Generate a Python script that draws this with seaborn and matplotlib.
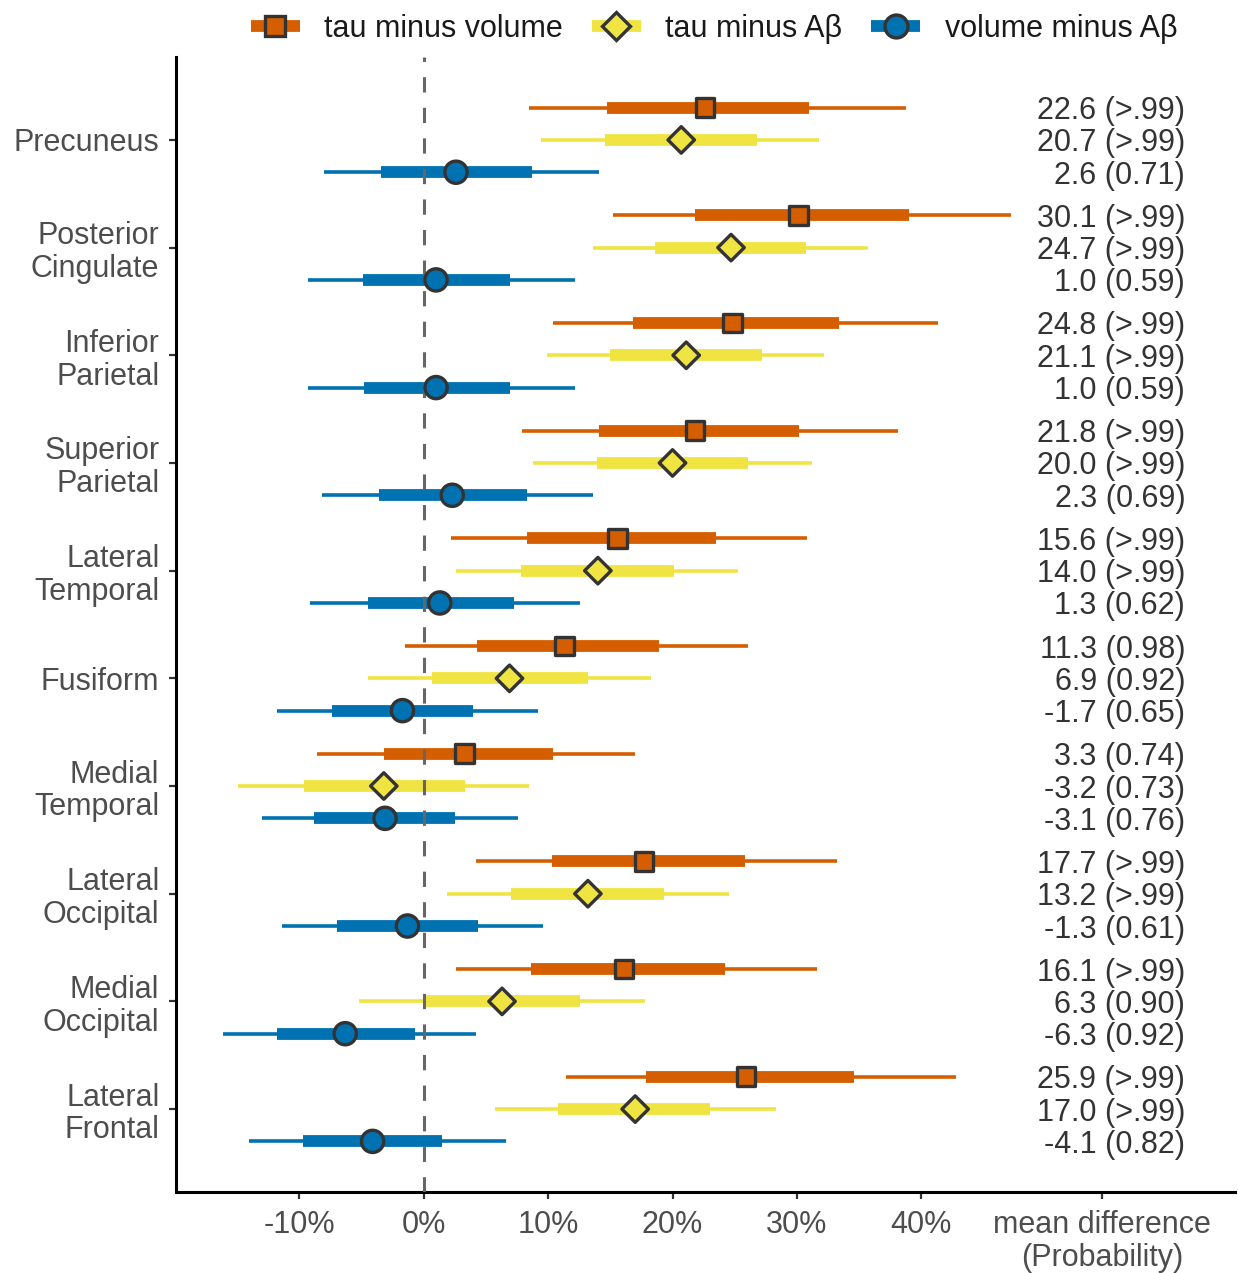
import matplotlib
matplotlib.use("Agg")
import matplotlib.pyplot as plt
from matplotlib.lines import Line2D
import numpy as np
import pandas as pd
import seaborn as sns

# ---- data -------------------------------------------------------------
regions = ["Precuneus", "Posterior\nCingulate", "Inferior\nParietal",
           "Superior\nParietal", "Lateral\nTemporal", "Fusiform",
           "Medial\nTemporal", "Lateral\nOccipital", "Medial\nOccipital",
           "Lateral\nFrontal"]
comparisons = ["tau minus volume", "tau minus Aβ", "volume minus Aβ"]

# posterior mean differences (%)
tau_vol_mean = [22.6, 30.1, 24.8, 21.8, 15.6, 11.3, 3.3, 17.7, 16.1, 25.9]
tau_ab_mean = [20.7, 24.7, 21.1, 20.0, 14.0, 6.9, -3.2, 13.2, 6.3, 17.0]
vol_ab_mean = [2.6, 1.0, 1.0, 2.3, 1.3, -1.7, -3.1, -1.3, -6.3, -4.1]

# probability of the difference having the sign of the mean
tau_vol_prob = [">.99", ">.99", ">.99", ">.99", ">.99", "0.98", "0.74", ">.99", ">.99", ">.99"]
tau_ab_prob = [">.99", ">.99", ">.99", ">.99", ">.99", "0.92", "0.73", ">.99", "0.90", ">.99"]
vol_ab_prob = ["0.71", "0.59", "0.59", "0.69", "0.62", "0.65", "0.76", "0.61", "0.92", "0.82"]

# outer (thin) credible intervals
tau_vol_lo95 = [8.5, 15.2, 10.4, 7.9, 2.2, -1.5, -8.6, 4.2, 2.6, 11.4]
tau_vol_hi95 = [38.8, 47.2, 41.3, 38.1, 30.8, 26.1, 17.0, 33.2, 31.6, 42.8]
tau_ab_lo95 = [9.4, 13.6, 9.9, 8.8, 2.6, -4.5, -14.9, 1.9, -5.2, 5.7]
tau_ab_hi95 = [31.8, 35.7, 32.2, 31.2, 25.3, 18.3, 8.5, 24.5, 17.8, 28.3]
vol_ab_lo95 = [-8.0, -9.3, -9.3, -8.2, -9.1, -11.8, -13.0, -11.4, -16.1, -14.0]
vol_ab_hi95 = [14.1, 12.2, 12.2, 13.6, 12.6, 9.2, 7.6, 9.6, 4.2, 6.6]

# inner (thick) credible intervals
tau_vol_lo_in = [14.7, 21.8, 16.8, 14.1, 8.3, 4.3, -3.2, 10.3, 8.6, 17.9]
tau_vol_hi_in = [31.0, 39.0, 33.4, 30.2, 23.5, 18.9, 10.4, 25.8, 24.2, 34.6]
tau_ab_lo_in = [14.6, 18.6, 15.0, 13.9, 7.8, 0.7, -9.6, 7.0, 0.0, 10.8]
tau_ab_hi_in = [26.8, 30.7, 27.2, 26.1, 20.1, 13.2, 3.3, 19.3, 12.6, 23.0]
vol_ab_lo_in = [-3.4, -4.9, -4.8, -3.6, -4.5, -7.4, -8.8, -7.0, -11.8, -9.7]
vol_ab_hi_in = [8.7, 6.9, 6.9, 8.3, 7.3, 4.0, 2.5, 4.4, -0.7, 1.5]

x_ticks = [-10, 0, 10, 20, 30, 40]
x_tick_labels = ["-10%", "0%", "10%", "20%", "30%", "40%"]
summary_label = "mean difference\n(Probability)"

# ---- long table -------------------------------------------------------
series = {
    "tau minus volume": (tau_vol_mean, tau_vol_prob, tau_vol_lo95, tau_vol_hi95, tau_vol_lo_in, tau_vol_hi_in),
    "tau minus Aβ": (tau_ab_mean, tau_ab_prob, tau_ab_lo95, tau_ab_hi95, tau_ab_lo_in, tau_ab_hi_in),
    "volume minus Aβ": (vol_ab_mean, vol_ab_prob, vol_ab_lo95, vol_ab_hi95, vol_ab_lo_in, vol_ab_hi_in),
}
offsets = {"tau minus volume": -0.3, "tau minus Aβ": 0.0, "volume minus Aβ": 0.3}
rows = []
for comp, (m, p, lo, hi, lo_in, hi_in) in series.items():
    for i, reg in enumerate(regions):
        rows.append(dict(region=reg, comparison=comp, mean=m[i], prob=p[i],
                         lo95=lo[i], hi95=hi[i], lo_in=lo_in[i], hi_in=hi_in[i],
                         ypos=i + offsets[comp]))
df = pd.DataFrame(rows)

palette = {"tau minus volume": "#D55E00", "tau minus Aβ": "#F0E442",
           "volume minus Aβ": "#0072B2"}
markers = {"tau minus volume": "s", "tau minus Aβ": "D", "volume minus Aβ": "o"}
marker_sizes = {"tau minus volume": 13.5 ** 2, "tau minus Aβ": 13.5 ** 2,
                "volume minus Aβ": 16 ** 2}
edge = "#333333"

# ---- figure -----------------------------------------------------------
sns.set_style("white")
plt.rcParams["font.family"] = ["Liberation Sans", "DejaVu Sans"]

W, H = 1238, 1273
fig = plt.figure(figsize=(W / 100, H / 100), dpi=100)
ax = fig.add_axes([176 / W, 1 - 1192 / H, (1235 - 176) / W, (1192 - 57) / H])

colors = df["comparison"].map(palette)
ax.hlines(df["ypos"], df["lo95"], df["hi95"], colors=colors, lw=2.6,
          capstyle="butt", zorder=2)
ax.hlines(df["ypos"], df["lo_in"], df["hi_in"], colors=colors, lw=8.5,
          capstyle="butt", zorder=2)
ax.axvline(0, color="#666666", lw=2.2, ls=(0, (5, 5)), zorder=3)

sns.scatterplot(data=df, x="mean", y="ypos", hue="comparison", style="comparison",
                size="comparison", palette=palette, markers=markers,
                sizes=marker_sizes, edgecolor=edge, linewidth=2.4,
                legend=False, zorder=4, ax=ax)

# numeric summary column
text_x = 61.2
for _, r in df.iterrows():
    ax.text(text_x, r["ypos"], f"{r['mean']:.1f} ({r['prob']})", ha="right",
            va="center_baseline", fontsize=22, color="#333333")

ax.set_xlim(-19.9, 65.2)
ax.set_ylim(9.77, -0.77)
ax.set_xticks(x_ticks + [54.5])
ax.set_xticklabels(x_tick_labels + [summary_label], linespacing=1.12)
ax.set_yticks(range(len(regions)))
ax.set_yticklabels(regions, linespacing=1.12)
for t in ax.get_yticklabels():
    t.set_multialignment("right")
ax.set_xlabel("")
ax.set_ylabel("")

for s in ["top", "right"]:
    ax.spines[s].set_visible(False)
for s in ["left", "bottom"]:
    ax.spines[s].set_linewidth(2.2)
    ax.spines[s].set_color("black")
ax.tick_params(axis="both", labelsize=22, labelcolor="#4D4D4D", color="#333333",
               length=5, width=1.6, left=True, bottom=True)
ax.tick_params(axis="y", pad=7)
ax.tick_params(axis="x", pad=8)

handles = [Line2D([], [], color=palette[c], lw=8.5, solid_capstyle="butt",
                  marker=markers[c], markerfacecolor=palette[c],
                  markeredgecolor=edge, markeredgewidth=2.4,
                  markersize=14 if c != "volume minus Aβ" else 16.5)
           for c in comparisons]
fig.legend(handles, comparisons, loc="center", bbox_to_anchor=(714 / W, 1 - 29 / H),
           ncol=3, frameon=False, fontsize=22, handlelength=1.6,
           handletextpad=0.8, columnspacing=0.95, labelcolor="#1A1A1A")

fig.savefig("out.png", dpi=100)
